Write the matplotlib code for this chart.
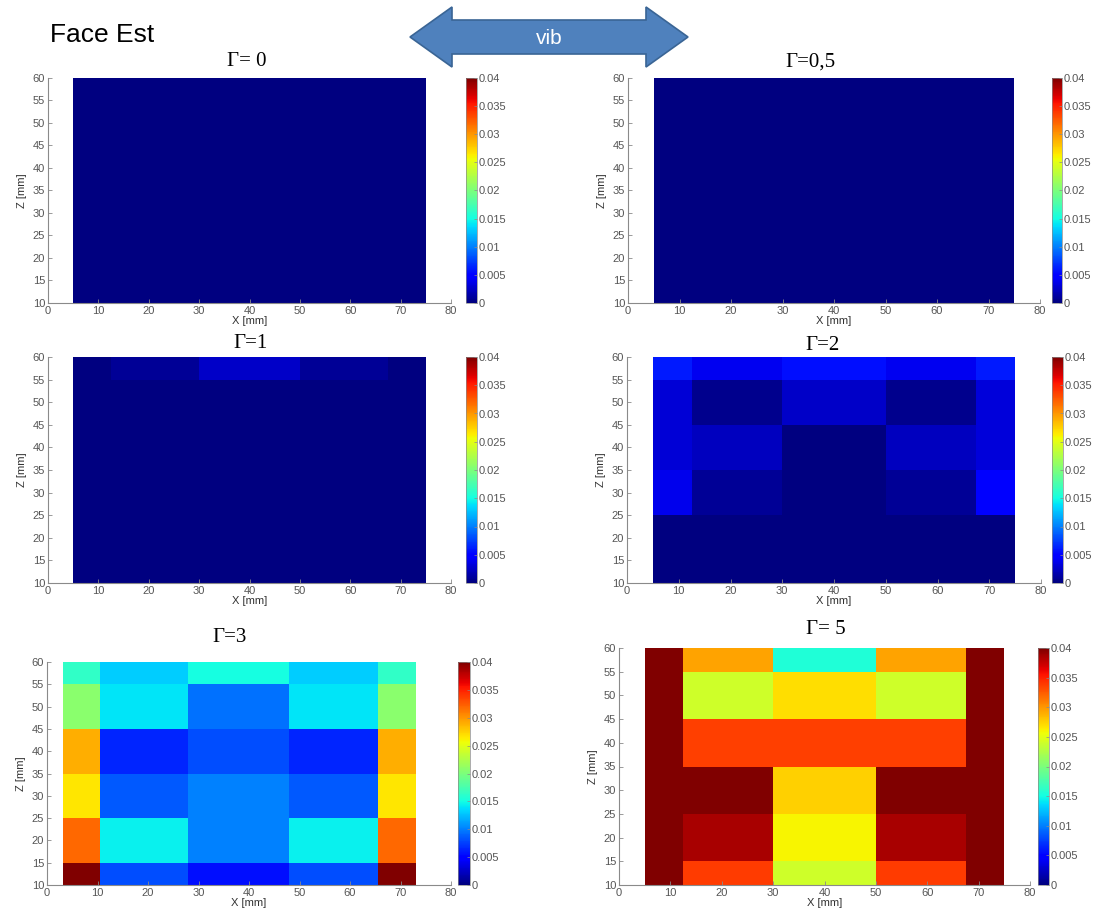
import numpy as np
import matplotlib
matplotlib.use('Agg')
import matplotlib.pyplot as plt
from matplotlib.patches import Polygon

W, H = 1097, 910

# --- data ---------------------------------------------------------------
gammas = ['Γ= 0', 'Γ=0,5', 'Γ=1', 'Γ=2', 'Γ=3', 'Γ= 5']

x_std = [5, 12.5, 30, 50, 67.5, 75]
x_g3 = [3.2, 10.5, 28, 48, 65.5, 73]

z_g0 = [10, 60]
z_g1 = [10, 55, 60]
z_g2 = [10, 25, 35, 45, 55, 60]
z_g35 = [10, 15, 25, 35, 45, 55, 60]

# rows from bottom to top, columns from left to right
val_g0 = [[0, 0, 0, 0, 0]]
val_g05 = [[0, 0, 0, 0, 0]]
val_g1 = [[0, 0, 0, 0, 0],
          [0, 0.0008, 0.0026, 0.0008, 0]]
val_g2 = [[0, 0, 0, 0, 0],
          [0.0038, 0.0008, 0, 0.0008, 0.0045],
          [0.003, 0.0022, 0, 0.0022, 0.0032],
          [0.003, 0.0006, 0.0025, 0.0006, 0.0032],
          [0.006, 0.004, 0.0055, 0.004, 0.006]]
val_g3 = [[0.040, 0.008, 0.0055, 0.008, 0.040],
          [0.032, 0.0145, 0.010, 0.0145, 0.032],
          [0.0267, 0.0085, 0.010, 0.0085, 0.0267],
          [0.029, 0.0065, 0.008, 0.0065, 0.029],
          [0.0207, 0.014, 0.0095, 0.014, 0.0207],
          [0.0164, 0.013, 0.015, 0.013, 0.0164]]
val_g5 = [[0.040, 0.0338, 0.024, 0.0338, 0.040],
          [0.040, 0.0385, 0.026, 0.0385, 0.040],
          [0.040, 0.040, 0.0275, 0.040, 0.040],
          [0.040, 0.0336, 0.0336, 0.0336, 0.040],
          [0.040, 0.024, 0.027, 0.024, 0.040],
          [0.040, 0.0295, 0.0155, 0.0295, 0.040]]

cbar_ticks = [0, 0.005, 0.01, 0.015, 0.02, 0.025, 0.03, 0.035, 0.04]
cbar_labels = ['0', '0.005', '0.01', '0.015', '0.02', '0.025', '0.03', '0.035', '0.04']
x_ticks = [0, 10, 20, 30, 40, 50, 60, 70, 80]
z_ticks = [10, 15, 20, 25, 30, 35, 40, 45, 50, 55, 60]

panels = [
    (x_std, z_g0, val_g0),
    (x_std, z_g0, val_g05),
    (x_std, z_g1, val_g1),
    (x_std, z_g2, val_g2),
    (x_g3, z_g35, val_g3),
    (x_std, z_g35, val_g5),
]

# layout in pixels: axes (l, t, r, b), colorbar (l, t, r, b), title centre
ax_px = [(48, 78, 451, 303), (628, 78, 1040, 303),
         (48, 357, 451, 583), (627, 357, 1041, 583),
         (47, 662, 451, 885), (619, 648, 1030, 885)]
cb_px = [(466, 78, 477, 303), (1052, 78, 1062, 303),
         (466, 357, 477, 583), (1052, 357, 1063, 583),
         (458, 662, 470, 885), (1038, 648, 1049, 885)]
title_px = [(247, 62), (810, 62), (250, 344), (822, 345), (230, 637), (826, 630)]


def frac(r):
    l, t, rr, b = r
    return [l / W, 1 - b / H, (rr - l) / W, (b - t) / H]


plt.rcParams['font.family'] = ['Liberation Sans', 'DejaVu Sans']

fig = plt.figure(figsize=(W / 100, H / 100), dpi=100)
fig.patch.set_facecolor('white')

grey = '#8a8a8a'
tick_col = '#555555'

for i, (xe, ze, vals) in enumerate(panels):
    ax = fig.add_axes(frac(ax_px[i]))
    mesh = ax.pcolormesh(xe, ze, np.array(vals), cmap='jet', vmin=0, vmax=0.04)
    ax.set_xlim(0, 80)
    ax.set_ylim(10, 60)
    ax.set_xticks(x_ticks)
    ax.set_yticks(z_ticks)
    for s in ['top', 'right']:
        ax.spines[s].set_visible(False)
    for s in ['left', 'bottom']:
        ax.spines[s].set_color(grey)
        ax.spines[s].set_linewidth(0.8)
    ax.tick_params(direction='in', length=3, width=0.6, color=grey,
                   labelsize=8, labelcolor=tick_col, pad=2)
    ax.set_xlabel('X [mm]', fontsize=8, color='#333333', labelpad=0)
    ax.set_ylabel('Z [mm]', fontsize=8, color='#333333', labelpad=4)

    cax = fig.add_axes(frac(cb_px[i]))
    cb = fig.colorbar(mesh, cax=cax)
    cb.set_ticks(cbar_ticks)
    cb.set_ticklabels(cbar_labels)
    cb.outline.set_linewidth(0.5)
    cb.outline.set_edgecolor(grey)
    cax.tick_params(direction='in', length=2, width=0.5, color=grey,
                    labelsize=8, labelcolor=tick_col, pad=1)

    tx, ty = title_px[i]
    fig.text(tx / W, 1 - ty / H, gammas[i], ha='center', va='center',
             fontsize=15, family='Liberation Serif')

fig.text(50 / W, 1 - 35 / H, 'Face Est', ha='left', va='center',
         fontsize=19, family='Liberation Sans')

# double arrow with "vib"
pts = [(410, 37), (452, 7), (452, 20), (646, 20), (646, 7), (688, 37),
       (646, 67), (646, 54), (452, 54), (452, 67)]
arrow = Polygon([(x / W, 1 - y / H) for x, y in pts], closed=True,
                transform=fig.transFigure, facecolor='#4f81bd',
                edgecolor='#3a6595', linewidth=1.2)
fig.patches.append(arrow)
fig.text(549 / W, 1 - 38 / H, 'vib', ha='center', va='center',
         fontsize=15, color='white', family='Liberation Sans')

fig.savefig('out.png', dpi=100)
